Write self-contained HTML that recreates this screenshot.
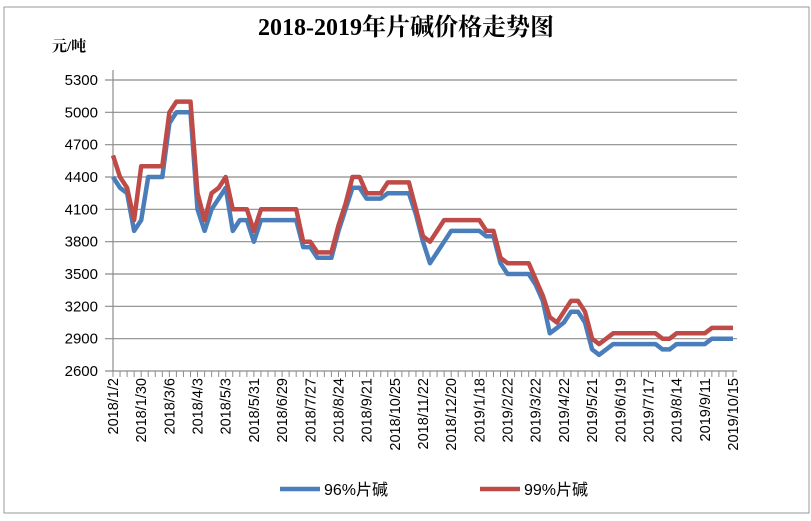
<!DOCTYPE html>
<html><head><meta charset="utf-8"><style>
body{margin:0;background:#fff}
svg text{font-family:"Liberation Sans","Noto Sans CJK SC",sans-serif}
</style></head><body>
<svg id="chart" width="811" height="516" xmlns="http://www.w3.org/2000/svg">
<rect x="4" y="7" width="805" height="506" fill="#fff" stroke="#9a9a9a" stroke-width="1"/>
<text x="406" y="35" text-anchor="middle" font-size="24" font-weight="bold" style="font-family:'Liberation Serif','Noto Serif CJK SC',serif">2018-2019年片碱价格走势图</text>
<text x="52" y="51" font-size="15" font-weight="bold" style="font-family:'Liberation Serif','Noto Serif CJK SC',serif">元/吨</text>
<g id="grid"></g><g id="xaxis"></g><g id="series"></g>
<g>
<line x1="280" y1="489" x2="320" y2="489" stroke="#4a7ebb" stroke-width="4.5"/>
<text x="324" y="495" font-size="16">96%片碱</text>
<line x1="480" y1="489" x2="520" y2="489" stroke="#be4b48" stroke-width="4.5"/>
<text x="524" y="495" font-size="16">99%片碱</text>
</g>
</svg>
<script>
const yTicks=[2600,2900,3200,3500,3800,4100,4400,4700,5000,5300];
const xLabels=["2018/1/2","2018/1/30","2018/3/6","2018/4/3","2018/5/3","2018/5/31","2018/6/29","2018/7/27","2018/8/24","2018/9/21","2018/10/25","2018/11/22","2018/12/20","2019/1/18","2019/2/22","2019/3/22","2019/4/22","2019/5/21","2019/6/19","2019/7/17","2019/8/14","2019/9/11","2019/10/15"];
const s96=[4400,4300,4250,3900,4000,4400,4400,4400,4900,5000,5000,5000,4100,3900,4100,4200,4300,3900,4000,4000,3800,4000,4000,4000,4000,4000,4000,3750,3750,3650,3650,3650,3900,4100,4300,4300,4200,4200,4200,4250,4250,4250,4250,
4050,3800,3600,3700,3800,3900,3900,3900,3900,3900,3850,3850,3600,3500,3500,3500,3500,3400,3250,2950,3000,3050,3150,3150,3050,2800,2750,2800,2850,2850,2850,2850,2850,2850,2850,2800,2800,2850,2850,2850,2850,2850,2900,2900,2900,2900];
const s99=[4600,4400,4300,4000,4500,4500,4500,4500,5000,5100,5100,5100,4250,4000,4250,4300,4400,4100,4100,4100,3900,4100,4100,4100,4100,4100,4100,3800,3800,3700,3700,3700,3950,4150,4400,4400,4250,4250,4250,4350,4350,4350,4350,
4100,3850,3800,3900,4000,4000,4000,4000,4000,4000,3900,3900,3650,3600,3600,3600,3600,3450,3300,3100,3050,3150,3250,3250,3150,2900,2850,2900,2950,2950,2950,2950,2950,2950,2950,2900,2900,2950,2950,2950,2950,2950,3000,3000,3000,3000];
const NS="http://www.w3.org/2000/svg";
const X0=113,X1=737,Y0=371,Y1=80,N=s96.length;
const step=(733-113)/(N-1);
function xs(i){return X0+i*step;}
function ys(v){return Y0-(v-2600)/(5300-2600)*(Y0-Y1);}
function mk(t,a,p){const e=document.createElementNS(NS,t);for(const k in a)e.setAttribute(k,a[k]);p.appendChild(e);return e;}
const grid=document.getElementById('grid');
yTicks.forEach(v=>{
  const y=ys(v);
  const l=mk('line',{x1:105,x2:X1,y1:y,y2:y,stroke:'#8c8c8c','stroke-width':1.2},grid);
  
  
  const t=mk('text',{x:98,y:y+5,'text-anchor':'end','font-size':15},grid);
  t.textContent=v;
  
  
});
const xa=document.getElementById('xaxis');
const ya=mk('line',{x1:X0,x2:X0,y1:70,y2:Y0,stroke:'#8c8c8c','stroke-width':1.2},xa);


for(let i=0;i<N;i++){
  const tk=mk('line',{x1:xs(i),x2:xs(i),y1:Y0,y2:Y0+6,stroke:'#8c8c8c','stroke-width':1},xa);
  
  
}
xLabels.forEach((s,k)=>{
  const x=xs(k*4)+5;
  const t=mk('text',{x:0,y:0,'text-anchor':'end','font-size':14.5,transform:`translate(${x},378) rotate(-90)`},xa);
  t.textContent=s;
  
  
});
const sg=document.getElementById('series');
function draw(arr,col,name){
  const d=arr.map((v,i)=>(i?'L':'M')+xs(i).toFixed(1)+' '+ys(v).toFixed(1)).join(' ');
  const p=mk('path',{d:d,fill:'none',stroke:col,'stroke-width':4.5,'stroke-linejoin':'round'},sg);
  
  
}
draw(s96,'#4a7ebb','series-96-line');
draw(s99,'#be4b48','series-99-line');
</script>
</body></html>
